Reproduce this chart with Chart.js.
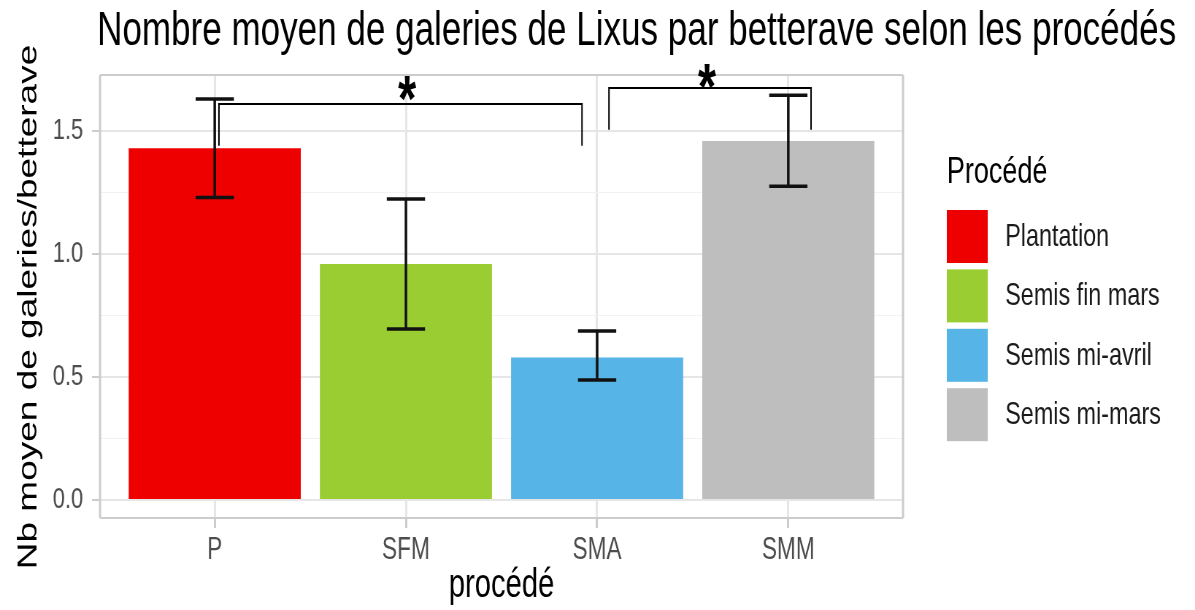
<!DOCTYPE html>
<html>
<head>
<meta charset="utf-8">
<script src="https://cdn.jsdelivr.net/npm/chart.js@4.4.0/dist/chart.umd.min.js"></script>
<style>
html, body { margin: 0; padding: 0; background: #fff; overflow: hidden; }
#wrap { width: 1195px; height: 610px; overflow: hidden; }
canvas { transform: scaleX(0.73); transform-origin: 0 0; }
</style>
</head>
<body>
<div id="wrap"><canvas id="chart" width="1637" height="610"></canvas></div>
<script>
const categories = ['P', 'SFM', 'SMA', 'SMM'];
const legendLabels = ['Plantation', 'Semis fin mars', 'Semis mi-avril', 'Semis mi-mars'];
const means = [1.43, 0.96, 0.58, 1.46];
const errLow = [1.23, 0.695, 0.488, 1.276];
const errHigh = [1.63, 1.224, 0.687, 1.646];
const colors = ['#ee0000', '#9acd32', '#56b4e6', '#bebebe'];
const yTicks = [0, 0.5, 1.0, 1.5];
const yMinor = [0.25, 0.75, 1.25];
// significance brackets: start, end, top, leg bottom
const brackets = [[1.022, 2.921, 1.61, 1.44], [3.062, 4.119, 1.675, 1.505]];
const starX = [2.006, 3.575];
const starY = [1.677, 1.726];

const FONT = 'Liberation Sans, Arial, sans-serif';
const CAP = 0.1;

const errData = [];
means.forEach((m, i) => {
  const x = i + 1;
  errData.push(
    { x: x - CAP, y: errHigh[i] }, { x: x + CAP, y: errHigh[i] }, { x: x, y: null },
    { x: x, y: errHigh[i] }, { x: x, y: errLow[i] }, { x: x, y: null },
    { x: x - CAP, y: errLow[i] }, { x: x + CAP, y: errLow[i] }, { x: x, y: null }
  );
});

const bracketData = [];
brackets.forEach(b => {
  bracketData.push(
    { x: b[0], y: b[3] }, { x: b[0], y: b[2] }, { x: b[1], y: b[2] }, { x: b[1], y: b[3] },
    { x: b[1], y: null }
  );
});

const decor = {
  id: 'decor',
  afterDraw(chart) {
    const ctx = chart.ctx;
    const ca = chart.chartArea;
    const xs = chart.scales.x, ys = chart.scales.y;
    ctx.save();

    // panel border
    ctx.strokeStyle = '#cccccc';
    ctx.lineWidth = 2;
    ctx.beginPath();
    ctx.moveTo(ca.left, ca.top); ctx.lineTo(ca.right, ca.top);
    ctx.moveTo(ca.left, ca.bottom); ctx.lineTo(ca.right, ca.bottom);
    ctx.stroke();
    ctx.lineWidth = 3;
    ctx.beginPath();
    ctx.moveTo(ca.left, ca.top); ctx.lineTo(ca.left, ca.bottom);
    ctx.moveTo(ca.right, ca.top); ctx.lineTo(ca.right, ca.bottom);
    ctx.stroke();

    // asterisks
    ctx.fillStyle = '#000';
    ctx.font = 'bold 64px ' + FONT;
    ctx.textAlign = 'center';
    ctx.textBaseline = 'alphabetic';
    starX.forEach((sx, i) => {
      ctx.fillText('*', xs.getPixelForValue(sx), ys.getPixelForValue(starY[i]) + 0.526 * 64);
    });

    // title
    ctx.textAlign = 'left';
    ctx.font = '48px ' + FONT;
    ctx.fillText('Nombre moyen de galeries de Lixus par betterave selon les procédés', 133, 45);

    // y axis title
    ctx.save();
    ctx.translate(40, 307);
    ctx.rotate(-Math.PI / 2);
    ctx.textAlign = 'center';
    ctx.textBaseline = 'middle';
    ctx.font = '37px ' + FONT;
    ctx.fillText('Nb moyen de galeries/betterave', 0, 0);
    ctx.restore();

    // legend
    ctx.font = '37px ' + FONT;
    ctx.fillText('Procédé', 1297, 183);
    ctx.font = '32px ' + FONT;
    ctx.textBaseline = 'middle';
    legendLabels.forEach((lab, i) => {
      const top = 210 + i * 59.4;
      ctx.fillStyle = colors[i];
      ctx.fillRect(1297, top, 56, 53);
      ctx.fillStyle = '#1a1a1a';
      ctx.fillText(lab, 1377, top + 27);
    });
    ctx.restore();
  }
};

new Chart(document.getElementById('chart'), {
  type: 'bar',
  data: {
    datasets: [
      {
        type: 'line',
        data: errData,
        borderColor: '#111111',
        borderWidth: 3.5,
        pointRadius: 0,
        fill: false,
        spanGaps: false,
        order: 1
      },
      {
        type: 'line',
        data: bracketData,
        borderColor: '#000',
        borderWidth: 2,
        pointRadius: 0,
        fill: false,
        spanGaps: false,
        order: 0
      },
      {
        type: 'bar',
        data: means.map((m, i) => ({ x: i + 1, y: m })),
        backgroundColor: colors,
        borderWidth: 0,
        barPercentage: 0.9,
        categoryPercentage: 1.0,
        order: 2
      }
    ]
  },
  options: {
    responsive: false,
    animation: false,
    layout: { padding: { top: 75, right: 400, bottom: 0, left: 0 } },
    plugins: {
      legend: { display: false },
      tooltip: { enabled: false },
      title: { display: false }
    },
    scales: {
      x: {
        type: 'linear',
        min: 0.4,
        max: 4.6,
        offset: false,
        afterBuildTicks: s => { s.ticks = categories.map((c, i) => ({ value: i + 1 })); },
        afterFit: s => { s.height = 92; },
        ticks: {
          callback: v => categories[v - 1],
          font: { family: FONT, size: 31 },
          color: '#4d4d4d',
          padding: 4,
          maxRotation: 0,
          autoSkip: false
        },
        grid: {
          color: '#e6e6e6',
          lineWidth: 3,
          tickLength: 10,
          tickColor: '#cccccc',
          tickWidth: 3,
          offset: false
        },
        border: { display: false },
        title: {
          display: true,
          text: 'procédé',
          font: { family: FONT, size: 40 },
          color: '#000',
          padding: { top: 0, bottom: 0 }
        }
      },
      y: {
        type: 'linear',
        min: -0.073,
        max: 1.728,
        afterBuildTicks: s => {
          s.ticks = yTicks.concat(yMinor).sort((a, b) => a - b).map(v => ({ value: v }));
        },
        afterFit: s => { s.width = 137; },
        ticks: {
          callback: v => (yTicks.includes(v) ? v.toFixed(1) : ''),
          font: { family: FONT, size: 30 },
          color: '#4d4d4d',
          padding: 12
        },
        grid: {
          color: c => (yTicks.includes(c.tick.value) ? '#e6e6e6' : '#f2f2f2'),
          lineWidth: c => (yTicks.includes(c.tick.value) ? 2 : 1),
          tickLength: 11,
          tickColor: c => (yTicks.includes(c.tick.value) ? '#cccccc' : 'rgba(0,0,0,0)'),
          tickWidth: 2
        },
        border: { display: false },
        title: { display: false }
      }
    }
  },
  plugins: [decor]
});
</script>
</body>
</html>
